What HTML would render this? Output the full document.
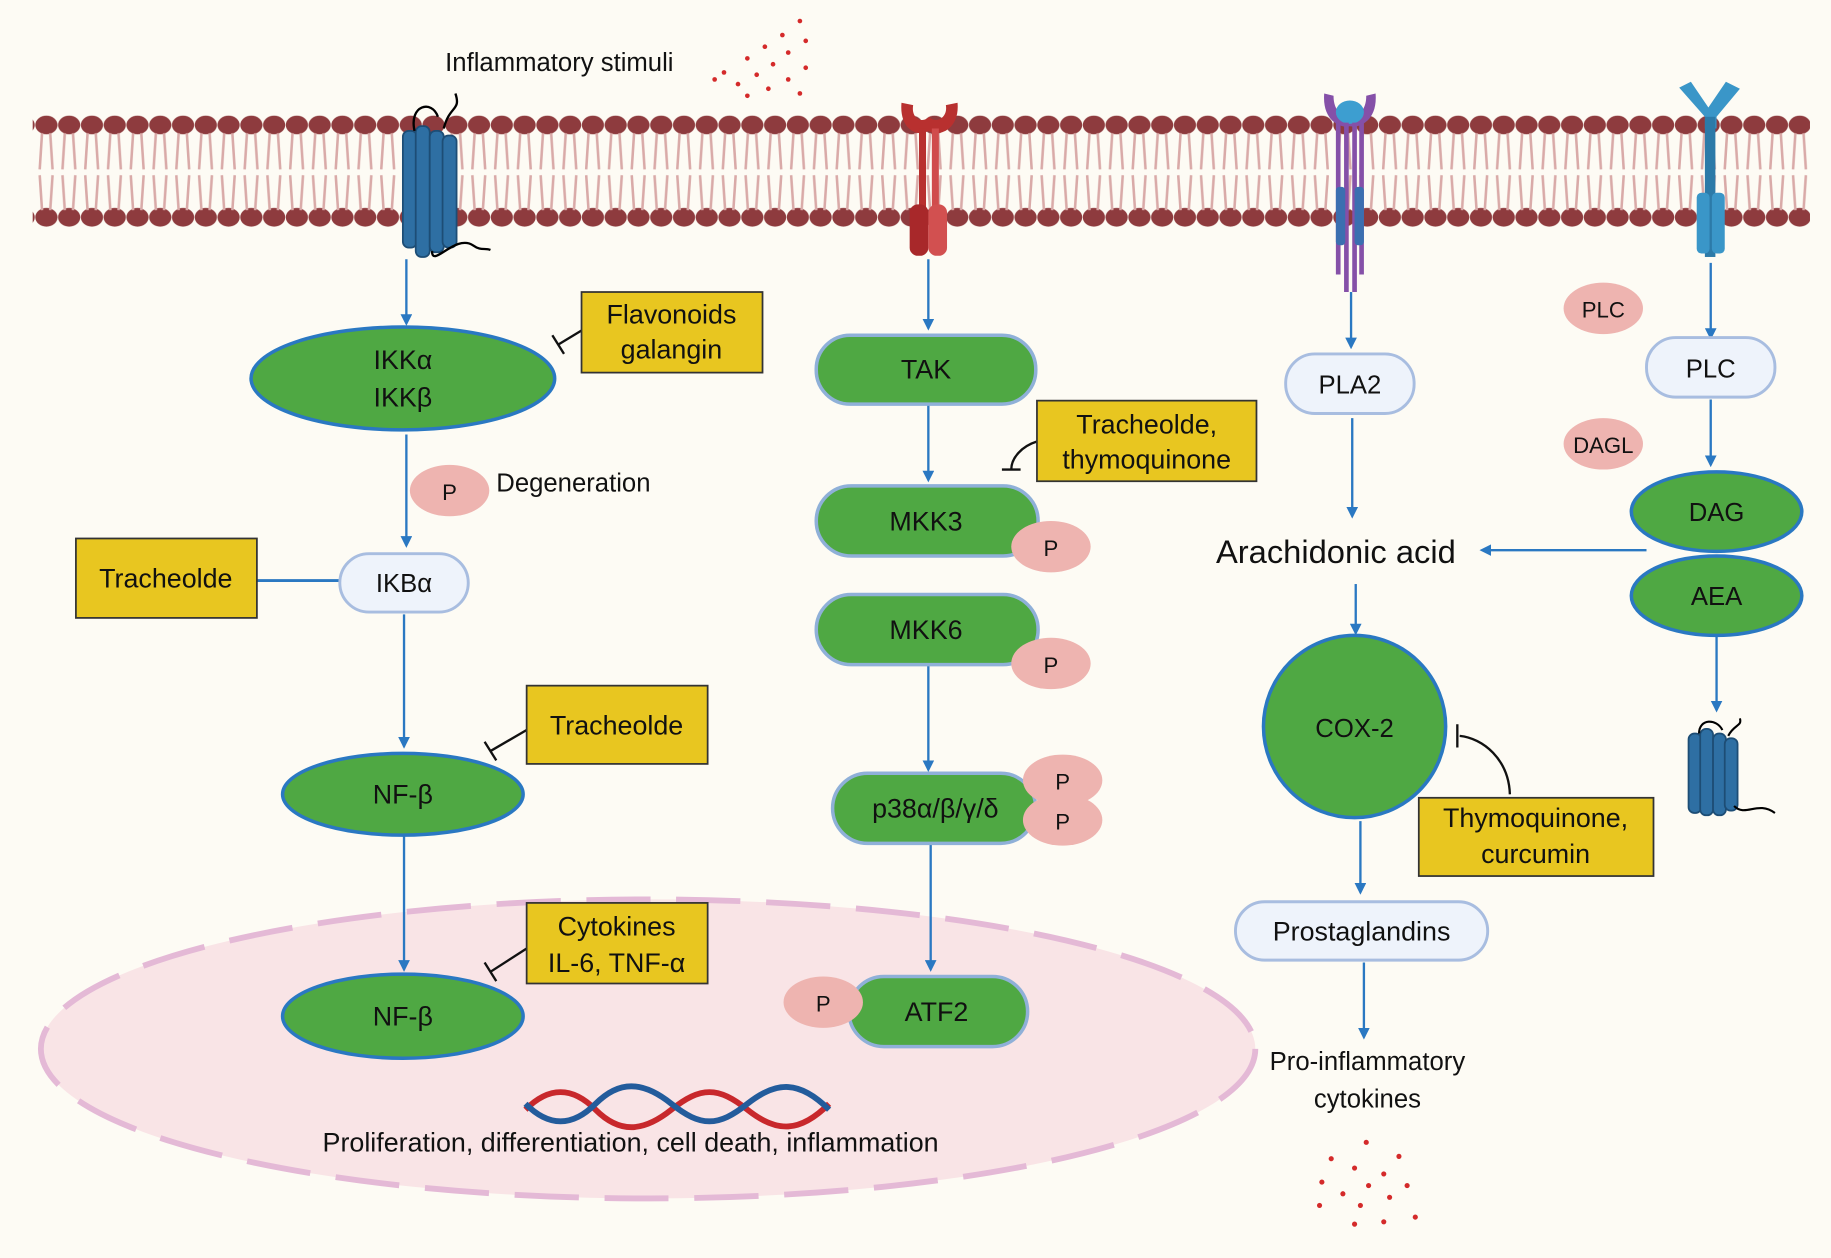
<!DOCTYPE html>
<html><head><meta charset="utf-8"><style>
html,body{margin:0;padding:0;background:#fdfbf4}
svg{display:block}
text{font-family:"Liberation Sans",sans-serif;fill:#111}
</style></head><body>
<svg width="1831" height="1258" viewBox="0 0 1568 1077" preserveAspectRatio="none" xmlns="http://www.w3.org/2000/svg">
<defs>
<marker id="ar" viewBox="0 0 10 10" refX="8" refY="5" markerWidth="5" markerHeight="5" orient="auto"><path d="M0,0L10,5L0,10z" fill="#2a78c2"/></marker>
<pattern id="heads" x="30" y="0" width="19.5" height="200" patternUnits="userSpaceOnUse">
<ellipse cx="9.75" cy="107" rx="9.5" ry="8" fill="#8e3b3e"/>
<ellipse cx="9.75" cy="186" rx="9.5" ry="8" fill="#8e3b3e"/>
<path d="M6,114 L4,145 M13,114 L15,145 M4,150 L6,180 M15,150 L13,180" stroke="#d9aaa8" stroke-width="2.2" fill="none"/>
</pattern>
</defs>
<rect width="1568" height="1077" fill="#fdfbf4"/>
<rect x="28" y="96" width="1522" height="100" fill="url(#heads)"/>
<!-- nucleus -->
<ellipse cx="555" cy="898" rx="520" ry="128" fill="#f9e4e6" stroke="#e4b9d6" stroke-width="5" stroke-dasharray="55 22"/>
<text x="479" y="61" font-size="22" text-anchor="middle">Inflammatory stimuli</text>
<g fill="#d42a2a">
<circle cx="685" cy="18" r="2"/><circle cx="670" cy="30" r="2"/><circle cx="690" cy="35" r="2"/><circle cx="655" cy="40" r="2"/><circle cx="675" cy="45" r="2"/><circle cx="640" cy="50" r="2"/><circle cx="662" cy="55" r="2"/><circle cx="690" cy="58" r="2"/><circle cx="620" cy="62" r="2"/><circle cx="648" cy="64" r="2"/><circle cx="675" cy="68" r="2"/><circle cx="632" cy="72" r="2"/><circle cx="658" cy="76" r="2"/><circle cx="612" cy="68" r="2"/><circle cx="685" cy="80" r="2"/><circle cx="640" cy="82" r="2"/></g>
<!-- GPCR -->
<g fill="#2e6fa3" stroke="#1d4d75" stroke-width="1.5"><rect x="345" y="112" width="12" height="100" rx="5"/><rect x="356" y="108" width="12" height="112" rx="5"/><rect x="368" y="112" width="12" height="104" rx="5"/><rect x="379" y="116" width="12" height="96" rx="5"/></g>
<path d="M355,112 C350,90 370,85 375,100 M380,110 C385,90 395,95 390,80 M370,215 C370,230 390,200 405,210 C412,215 415,212 420,214" stroke="#000" stroke-width="2" fill="none"/>
<!-- red receptor -->
<path d="M772,88 C770,110 785,118 795,112 C805,118 822,110 820,88 L810,90 C812,102 800,106 796,100 C790,106 780,102 782,90z" fill="#b8302f"/>
<rect x="787" y="110" width="6" height="70" fill="#b8302f"/><rect x="798" y="110" width="6" height="70" fill="#d04c4c"/>
<rect x="779" y="175" width="16" height="44" rx="7" fill="#a8282a"/><rect x="795" y="175" width="16" height="44" rx="7" fill="#d25050"/>
<!-- purple receptor -->
<path d="M1134,80 C1132,105 1150,110 1156,108 C1162,110 1180,105 1178,80 L1170,82 C1170,96 1162,100 1156,96 C1150,100 1142,96 1142,82z" fill="#8550a8"/>
<ellipse cx="1156" cy="96" rx="12" ry="10" fill="#3d9ed0"/>
<g stroke="#8550a8" stroke-width="4"><line x1="1146" y1="105" x2="1146" y2="235"/><line x1="1166" y1="105" x2="1166" y2="235"/><line x1="1153" y1="105" x2="1153" y2="250"/><line x1="1160" y1="105" x2="1160" y2="250"/></g>
<rect x="1144" y="160" width="8" height="50" rx="3" fill="#3b6fb0"/><rect x="1160" y="160" width="8" height="50" rx="3" fill="#3b6fb0"/>
<!-- Y receptor -->
<path d="M1438,75 L1448,70 L1463,92 L1478,70 L1490,76 L1470,100 L1470,110 L1460,110 L1460,100z" fill="#3a96c8"/>
<rect x="1460" y="100" width="9" height="120" fill="#2c7aa8"/>
<rect x="1453" y="165" width="11" height="52" rx="4" fill="#3a96c8"/><rect x="1466" y="165" width="11" height="52" rx="4" fill="#3a96c8"/>
<!-- arrows -->
<g stroke="#2a78c2" stroke-width="2" fill="none" marker-end="url(#ar)">
<line x1="348" y1="222" x2="348" y2="277"/>
<line x1="348" y1="372" x2="348" y2="467"/>
<line x1="346" y1="526" x2="346" y2="639"/>
<line x1="346" y1="716" x2="346" y2="830"/>
<line x1="795" y1="222" x2="795" y2="281"/>
<line x1="795" y1="346" x2="795" y2="411"/>
<line x1="795" y1="570" x2="795" y2="659"/>
<line x1="797" y1="722" x2="797" y2="830"/>
<line x1="1157" y1="250" x2="1157" y2="297"/>
<line x1="1158" y1="358" x2="1158" y2="442"/>
<line x1="1410" y1="471" x2="1269" y2="471"/>
<line x1="1465" y1="225" x2="1465" y2="289"/>
<line x1="1465" y1="342" x2="1465" y2="398"/>
<line x1="1470" y1="545" x2="1470" y2="608"/>
<line x1="1161" y1="500" x2="1161" y2="542"/>
<line x1="1165" y1="703" x2="1165" y2="764"/>
<line x1="1168" y1="824" x2="1168" y2="888"/>
</g>
<g stroke="#111" stroke-width="2" fill="none">
<path d="M498,283 L478,295 M473,287 L483,303"/>
<path d="M451,625 L420,643 M415,635 L425,651"/>
<path d="M451,812 L420,832 M415,824 L425,840"/>
<path d="M888,378 C875,382 866,392 866,402 M858,402 L874,402"/>
<path d="M1293,680 C1292,650 1270,632 1250,630 M1248,620 L1248,640"/>
</g>
<line x1="220" y1="497" x2="291" y2="497" stroke="#2a78c2" stroke-width="2.5"/>
<!-- green shapes -->
<g fill="#4fa843" stroke="#2a78c2" stroke-width="3">
<ellipse cx="345" cy="324" rx="130" ry="44"/>
<ellipse cx="345" cy="680" rx="103" ry="35"/>
<ellipse cx="345" cy="870" rx="103" ry="36"/>
<ellipse cx="1470" cy="438" rx="73" ry="34"/>
<ellipse cx="1470" cy="510" rx="73" ry="34"/>
<circle cx="1160" cy="622" r="78"/>
</g>
<g fill="#4fa843" stroke="#8fb0d8" stroke-width="3">
<rect x="699" y="287" width="188" height="59" rx="29"/>
<rect x="699" y="416" width="190" height="60" rx="30"/>
<rect x="699" y="509" width="190" height="60" rx="30"/>
<rect x="713" y="662" width="174" height="60" rx="30"/>
<rect x="727" y="836" width="153" height="60" rx="30"/>
</g>
<g fill="#eef3fb" stroke="#a8bde0" stroke-width="2.5">
<rect x="291" y="474" width="110" height="50" rx="25"/>
<rect x="1101" y="303" width="110" height="51" rx="25"/>
<rect x="1410" y="289" width="110" height="51" rx="25"/>
<rect x="1058" y="772" width="216" height="50" rx="25"/>
</g>
<g fill="#eeb4b0">
<ellipse cx="385" cy="420" rx="34" ry="22"/>
<ellipse cx="900" cy="468" rx="34" ry="22"/>
<ellipse cx="900" cy="568" rx="34" ry="22"/>
<ellipse cx="910" cy="668" rx="34" ry="22"/>
<ellipse cx="910" cy="702" rx="34" ry="22"/>
<ellipse cx="705" cy="858" rx="34" ry="22"/>
<ellipse cx="1373" cy="264" rx="34" ry="22"/>
<ellipse cx="1373" cy="380" rx="34" ry="22"/>
</g>
<!-- yellow boxes -->
<g fill="#e8c620" stroke="#333" stroke-width="1.5">
<rect x="498" y="250" width="155" height="69"/>
<rect x="65" y="461" width="155" height="68"/>
<rect x="451" y="587" width="155" height="67"/>
<rect x="451" y="773" width="155" height="69"/>
<rect x="888" y="343" width="188" height="69"/>
<rect x="1215" y="683" width="201" height="67"/>
</g>
<!-- small GPCR -->
<g fill="#2e6fa3" stroke="#1d4d75" stroke-width="1.5"><rect x="1446" y="628" width="11" height="68" rx="5"/><rect x="1456" y="624" width="11" height="74" rx="5"/><rect x="1467" y="628" width="11" height="70" rx="5"/><rect x="1477" y="632" width="11" height="62" rx="5"/></g>
<path d="M1455,628 C1455,615 1470,615 1475,625 M1480,630 C1485,620 1492,622 1490,615 M1485,690 C1495,700 1505,685 1520,696" stroke="#000" stroke-width="1.8" fill="none"/>
<!-- DNA -->
<path d="M450,950 C470,930 490,930 510,950 S550,970 575,950 S615,930 640,950 S685,970 710,945" stroke="#c8282c" stroke-width="5" fill="none"/>
<path d="M450,945 C470,965 490,965 510,945 S550,925 575,945 S615,965 640,945 S685,925 710,950" stroke="#235c9c" stroke-width="5" fill="none"/>
<g fill="#d42a2a">
<circle cx="1170" cy="978" r="2.2"/><circle cx="1140" cy="992" r="2.2"/><circle cx="1198" cy="990" r="2.2"/><circle cx="1160" cy="1000" r="2.2"/><circle cx="1185" cy="1005" r="2.2"/><circle cx="1132" cy="1012" r="2.2"/><circle cx="1172" cy="1015" r="2.2"/><circle cx="1205" cy="1015" r="2.2"/><circle cx="1150" cy="1022" r="2.2"/><circle cx="1190" cy="1025" r="2.2"/><circle cx="1130" cy="1032" r="2.2"/><circle cx="1165" cy="1032" r="2.2"/><circle cx="1160" cy="1048" r="2.2"/><circle cx="1185" cy="1046" r="2.2"/><circle cx="1212" cy="1042" r="2.2"/></g>
<!-- labels -->
<g font-size="23" text-anchor="middle">
<text x="345" y="316">IKKα</text><text x="345" y="348">IKKβ</text>
<text x="575" y="277">Flavonoids</text><text x="575" y="307">galangin</text>
<text x="385" y="428" font-size="19">P</text>
<text x="425" y="421" text-anchor="start" font-size="22">Degeneration</text>
<text x="346" y="507" font-size="22">IKBα</text>
<text x="142" y="503">Tracheolde</text>
<text x="528" y="629">Tracheolde</text>
<text x="345" y="688">NF-β</text>
<text x="528" y="801">Cytokines</text><text x="528" y="832">IL-6, TNF-α</text>
<text x="345" y="878">NF-β</text>
<text x="540" y="986">Proliferation, differentiation, cell death, inflammation</text>
<text x="793" y="324">TAK</text>
<text x="982" y="371">Tracheolde,</text><text x="982" y="401">thymoquinone</text>
<text x="793" y="454">MKK3</text>
<text x="900" y="476" font-size="19">P</text>
<text x="793" y="547">MKK6</text>
<text x="900" y="576" font-size="19">P</text>
<text x="801" y="700">p38α/β/γ/δ</text>
<text x="910" y="676" font-size="19">P</text><text x="910" y="710" font-size="19">P</text>
<text x="802" y="874">ATF2</text>
<text x="705" y="866" font-size="19">P</text>
<text x="1156" y="337" font-size="22">PLA2</text>
<text x="1373" y="272" font-size="19">PLC</text>
<text x="1373" y="388" font-size="19">DAGL</text>
<text x="1465" y="323" font-size="22">PLC</text>
<text x="1470" y="446" font-size="22">DAG</text>
<text x="1470" y="518" font-size="22">AEA</text>
<text x="1144" y="482" font-size="28">Arachidonic acid</text>
<text x="1160" y="631" font-size="22">COX-2</text>
<text x="1315" y="708">Thymoquinone,</text><text x="1315" y="739">curcumin</text>
<text x="1166" y="805">Prostaglandins</text>
<text x="1171" y="916" font-size="22">Pro-inflammatory</text>
<text x="1171" y="948" font-size="22">cytokines</text>
</g>
</svg>
</body></html>
